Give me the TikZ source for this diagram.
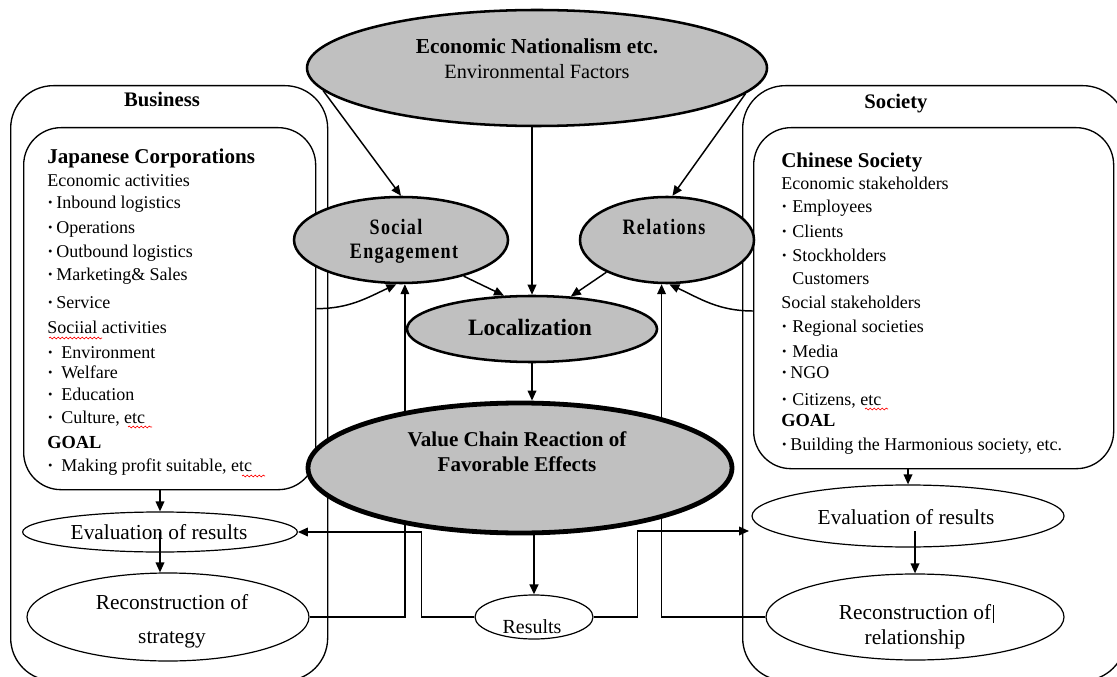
\documentclass[tikz,border=0pt]{standalone}
\usepackage{fontspec}
\setmainfont{Liberation Serif}
\newfontfamily\condfont[FakeStretch=0.82,LetterSpace=6]{Liberation Serif}
\usetikzlibrary{shapes.geometric,arrows.meta,decorations.pathmorphing}
\definecolor{ellgray}{RGB}{192,192,192}
\newcommand\dotb[1]{\makebox[#1pt][l]{\textbf{·}}}
\pgfdeclarelayer{bg}
\pgfsetlayers{bg,main}
\begin{document}
\begin{tikzpicture}[x=0.75pt,y=-0.75pt,
  obox/.style={draw, line width=1pt, rounded corners=32pt, anchor=north west, inner sep=0pt},
  ibox/.style={draw, line width=1pt, rounded corners=28pt, anchor=north west, inner sep=0pt},
  gel/.style={ellipse, draw, fill=ellgray, line width=1.9pt, inner sep=0pt},
  wel/.style={ellipse, draw, line width=0.9pt, inner sep=0pt},
  conn/.style={line width=1.1pt, -{Triangle[length=7.5pt,width=6.5pt]}},
  lst/.style={anchor=base west, inner sep=0pt, font=\fontsize{13.5}{16}\selectfont},
  hd/.style={anchor=base west, inner sep=0pt, font=\fontsize{15.8}{18}\selectfont\bfseries},
  gl/.style={anchor=base west, inner sep=0pt, font=\fontsize{13.8}{16}\selectfont\bfseries},
  txt/.style={anchor=base, inner sep=0pt},
  squig/.style={red, line width=0.5pt, decorate, decoration={snake, amplitude=0.7pt, segment length=3pt}}
]
\useasboundingbox (0,0) rectangle (1117,677);

% boxes
\begin{pgfonlayer}{bg}
\node[obox, minimum width=237.75pt, minimum height=446.25pt] (bizout) at (10,85) {};
\node[ibox, minimum width=219pt, minimum height=271.5pt] (bizin) at (23,127) {};
\node[obox, minimum width=287.25pt, minimum height=446.25pt] (socout) at (742,85) {};
\node[ibox, minimum width=270pt, minimum height=255.75pt] (socin) at (753,127) {};
\end{pgfonlayer}

% ellipses
\node[gel, minimum width=345pt, minimum height=87pt] (env) at (537,68) {};
\node[gel, minimum width=160.5pt, minimum height=64.5pt] (se) at (401,240) {};
\node[gel, minimum width=130.5pt, minimum height=64.5pt] (rel) at (667,240) {};
\node[gel, minimum width=187.5pt, minimum height=49.5pt] (loc) at (532,329) {};
\node[gel, line width=3.6pt, minimum width=318pt, minimum height=97.5pt] (vc) at (520,468) {};
\node[wel, minimum width=88.5pt, minimum height=33pt] (res) at (534,617) {};
\node[wel, minimum width=206pt, minimum height=30pt] (evalL) at (160,532) {};
\node[wel, minimum width=211.5pt, minimum height=66pt] (reconL) at (168,617) {};
\node[wel, minimum width=234pt, minimum height=46.5pt] (evalR) at (908,516) {};
\node[wel, minimum width=223.5pt, minimum height=64.5pt] (reconR) at (915,617) {};

\coordinate (evalRin) at (749,531);
\coordinate (sc) at (socin.west |- 0,311);

% connectors
\begin{pgfonlayer}{bg}
\draw[conn] (env.186.7) -- (se.north);
\draw[conn] (env.353.2) -- (rel.83);
\draw[conn] (loc.north |- env.south) -- (loc.north);
\draw[conn] (se.-30) -- (loc.130);
\draw[conn] (rel.208) -- (loc.40);
\draw[conn] (loc.south) -- (loc.south |- vc.north);
\draw[conn, line width=1.7pt] (res.north |- vc.south) -- (res.north);
\draw[conn] (res.west) -- ++(-53,0) |- (evalL.east);
\draw[conn] (res.east) -- ++(44,0) |- (evalRin);
\draw[conn] (reconL.east) -| (se.275);
\draw[conn] (reconR.west) -| (rel.263);
\draw[conn] (bizin.east) to[out=0,in=205] (se.264);
\draw[conn] (sc) to[out=180,in=-25] (rel.273);
\draw[conn] (evalL.north |- bizin.south) -- (evalL.north);
\draw[conn] (evalL.center) -- (evalL.center |- reconL.north);
\draw[conn] (evalR.north |- socin.south) -- (evalR.north);
\draw[conn] (evalRin -| reconR.north) -- (reconR.north);
\end{pgfonlayer}

% labels
\node[txt, font=\fontsize{15.5}{18}\selectfont\bfseries] (bizlbl) at (162,107) {Business};
\node[txt, font=\fontsize{15.5}{18}\selectfont\bfseries] (soclbl) at (896,109) {Society};
\node[txt, font=\fontsize{16}{19}\selectfont\bfseries] (envt1) at (537,53.5) {Economic Nationalism etc.};
\node[txt, font=\fontsize{15.2}{18}\selectfont] (envt2) at (537,78.5) {Environmental Factors};
\node[txt, font=\fontsize{16.5}{20}\selectfont\condfont\bfseries] (set1) at (396,235) {Social};
\node[txt, font=\fontsize{16.5}{20}\selectfont\condfont\bfseries] (set2) at (404,259) {Engagement};
\node[txt, font=\fontsize{16.5}{20}\selectfont\condfont\bfseries] (relt) at (664,235) {Relations};
\node[txt, font=\fontsize{17.6}{20}\selectfont\bfseries] (loct) at (530,335) {Localization};
\node[txt, font=\fontsize{15.8}{19}\selectfont\bfseries] (vct1) at (517,446.5) {Value Chain Reaction of};
\node[txt, font=\fontsize{15.8}{19}\selectfont\bfseries] (vct2) at (517,471.5) {Favorable Effects};
\node[txt, font=\fontsize{15}{18}\selectfont] (rest) at (532,633) {Results};
\node[txt, font=\fontsize{16}{19}\selectfont] (evalLt) at (159,539) {Evaluation of results};
\node[txt, font=\fontsize{16}{19}\selectfont] (reconLt1) at (172,609.5) {Reconstruction of};
\node[txt, font=\fontsize{16}{19}\selectfont] (reconLt2) at (172,643) {strategy};
\node[txt, font=\fontsize{16}{19}\selectfont] (evalRt) at (906,524) {Evaluation of results};
\node[txt, font=\fontsize{16}{19}\selectfont] (reconRt1) at (915,619.5) {Reconstruction of};
\node[txt, font=\fontsize{16}{19}\selectfont] (reconRt2) at (915,644.5) {relationship};
\draw[line width=0.5pt] (993,605) -- (993,623);

% left list
\node[hd] (L0) at (47,164) {Japanese Corporations};
\node[lst] (L1) at (47,187) {Economic activities};
\node[lst] (L2) at (47,209) {\dotb{6.75}Inbound logistics};
\node[lst] (L3) at (47,234) {\dotb{6.75}Operations};
\node[lst] (L4) at (47,258) {\dotb{6.75}Outbound logistics};
\node[lst] (L5) at (47,281) {\dotb{6.75}Marketing\& Sales};
\node[lst] (L6) at (47,308) {\dotb{6.75}Service};
\node[lst] (L7) at (47,334) {Sociial activities};
\node[lst] (L8) at (47,358) {\dotb{10.5}Environment};
\node[lst] (L9) at (47,378) {\dotb{10.5}Welfare};
\node[lst] (L10) at (47,400) {\dotb{10.5}Education};
\node[lst] (L11) at (47,423) {\dotb{10.5}Culture, etc};
\node[gl] (L12) at (47,448) {GOAL};
\node[lst] (L13) at (47,471) {\dotb{10.5}Making profit suitable, etc};

% right list
\node[hd] (R0) at (781,168) {Chinese Society};
\node[lst] (R1) at (781,190) {Economic stakeholders};
\node[lst] (R2) at (781,213) {\dotb{8.25}Employees};
\node[lst] (R3) at (781,238) {\dotb{8.25}Clients};
\node[lst] (R4) at (781,262) {\dotb{8.25}Stockholders};
\node[lst] (R5) at (781,285) {\hspace{8.25pt}Customers};
\node[lst] (R6) at (781,308) {Social stakeholders};
\node[lst] (R7) at (781,332) {\dotb{8.25}Regional societies};
\node[lst] (R8) at (781,357) {\dotb{8.25}Media};
\node[lst] (R9) at (781,378) {\dotb{6.75}NGO};
\node[lst] (R10) at (781,405) {\dotb{8.25}Citizens, etc};
\node[gl] (R11) at (781,426) {GOAL};
\node[lst] (R12) at (781,450) {\dotb{6.75}Building the Harmonious society, etc.};

% spell-check marks
\draw[squig] (49,338) -- (102,338);
\draw[squig] (128,427) -- (152,427);
\draw[squig] (242,476) -- (265,476);
\draw[squig] (865,409) -- (888,409);
\end{tikzpicture}
\end{document}
